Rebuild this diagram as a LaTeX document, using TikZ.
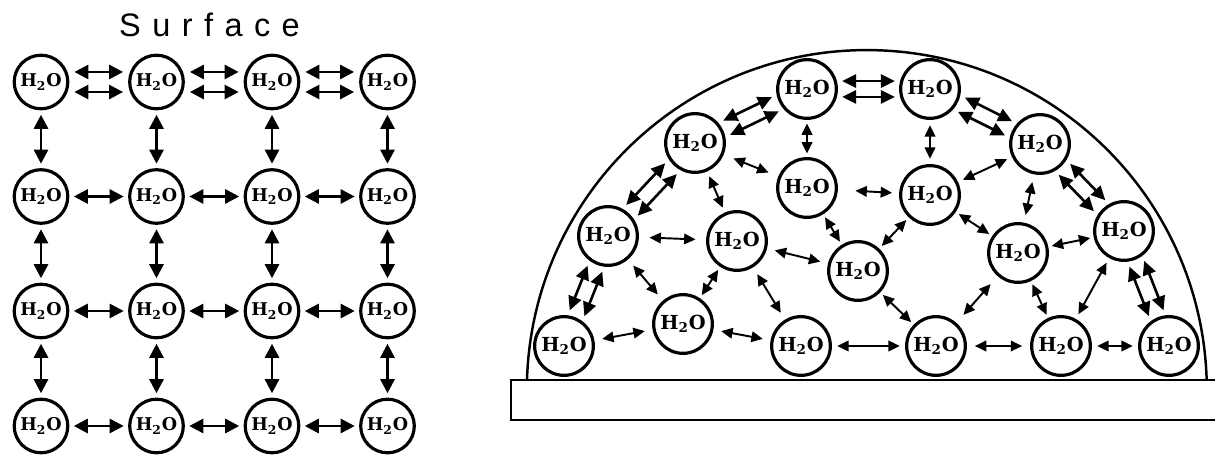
\documentclass[tikz,border=0pt]{standalone}
\usepackage{fontspec}
\usetikzlibrary{arrows.meta,calc}
\newfontfamily\molfont{DejaVu Serif}
\newfontfamily\headfont{Liberation Sans}
\newcommand{\water}{H\textsubscript{2}O}
\newcommand{\bondpair}[4]{%
    \draw[#1] ($(#3)!#2!90:(#4)$) -- ($(#4)!#2!-90:(#3)$);
    \draw[#1] ($(#3)!#2!-90:(#4)$) -- ($(#4)!#2!90:(#3)$);}
\begin{document}
\begin{tikzpicture}[
    mol/.style={circle, draw, line width=1.8pt, inner sep=0pt, minimum size=30.5pt,
        font=\molfont\bfseries\fontsize{10}{11}\selectfont},
    bigmol/.style={mol, minimum size=33.4pt, font=\molfont\bfseries\fontsize{11}{12}\selectfont},
    link/.style={{Triangle[length=8pt,width=8pt]}-{Triangle[length=8pt,width=8pt]},
        line width=1.5pt, shorten <=2.5pt, shorten >=2.5pt},
    gridpair/.style={link, shorten <=19pt, shorten >=19pt},
    rimpair/.style={{Triangle[length=8pt,width=7.5pt]}-{Triangle[length=8pt,width=7.5pt]},
        line width=1.5pt, shorten <=20pt, shorten >=20pt},
    bond/.style={{Triangle[length=6.5pt,width=6pt]}-{Triangle[length=6.5pt,width=6pt]},
        line width=1.1pt, shorten <=#1, shorten >=#1},
    bond/.default=3pt]
    \useasboundingbox (0,0) rectangle (24.3,-9.1);

    \node[font=\headfont\fontsize{18.5}{20}\selectfont] (surface) at (4.19,-0.5)
        {S\kern6.5pt u\kern6.5pt r\kern6.5pt f\kern6.5pt a\kern6.5pt c\kern6.5pt e};

    \node[mol] (w11) at (0.82,-1.64) {\water};
    \node[mol] (w12) at (3.13,-1.64) {\water};
    \node[mol] (w13) at (5.44,-1.64) {\water};
    \node[mol] (w14) at (7.75,-1.64) {\water};
    \node[mol] (w21) at (0.82,-3.93) {\water};
    \node[mol] (w22) at (3.13,-3.93) {\water};
    \node[mol] (w23) at (5.44,-3.93) {\water};
    \node[mol] (w24) at (7.75,-3.93) {\water};
    \node[mol] (w31) at (0.82,-6.22) {\water};
    \node[mol] (w32) at (3.13,-6.22) {\water};
    \node[mol] (w33) at (5.44,-6.22) {\water};
    \node[mol] (w34) at (7.75,-6.22) {\water};
    \node[mol] (w41) at (0.82,-8.52) {\water};
    \node[mol] (w42) at (3.13,-8.52) {\water};
    \node[mol] (w43) at (5.44,-8.52) {\water};
    \node[mol] (w44) at (7.75,-8.52) {\water};

    \bondpair{gridpair}{5.7pt}{w11}{w12}
    \bondpair{gridpair}{5.7pt}{w12}{w13}
    \bondpair{gridpair}{5.7pt}{w13}{w14}
    \draw[link] (w21) -- (w22);
    \draw[link] (w22) -- (w23);
    \draw[link] (w23) -- (w24);
    \draw[link] (w31) -- (w32);
    \draw[link] (w32) -- (w33);
    \draw[link] (w33) -- (w34);
    \draw[link] (w41) -- (w42);
    \draw[link] (w42) -- (w43);
    \draw[link] (w43) -- (w44);
    \draw[link] (w11) -- (w21);
    \draw[link] (w12) -- (w22);
    \draw[link] (w13) -- (w23);
    \draw[link] (w14) -- (w24);
    \draw[link] (w21) -- (w31);
    \draw[link] (w22) -- (w32);
    \draw[link] (w23) -- (w33);
    \draw[link] (w24) -- (w34);
    \draw[link] (w31) -- (w41);
    \draw[link] (w32) -- (w42);
    \draw[link] (w33) -- (w43);
    \draw[link] (w34) -- (w44);

    \draw[line width=1.4pt] (24.3,-7.6) -- (10.22,-7.6) -- (10.22,-8.4) -- (24.3,-8.4);
    \draw[line width=1.4pt] (10.54,-7.6) arc[start angle=178.3, end angle=1.7, radius=6.8];

    \node[bigmol] (dA) at (16.14,-1.78) {\water};
    \node[bigmol] (dB) at (18.6,-1.78) {\water};
    \node[bigmol] (dC) at (13.9,-2.86) {\water};
    \node[bigmol] (dD) at (20.8,-2.88) {\water};
    \node[bigmol] (dE) at (16.14,-3.76) {\water};
    \node[bigmol] (dF) at (18.6,-3.9) {\water};
    \node[bigmol] (dG) at (12.16,-4.72) {\water};
    \node[bigmol] (dH) at (14.74,-4.82) {\water};
    \node[bigmol] (dI) at (22.48,-4.62) {\water};
    \node[bigmol] (dJ) at (17.16,-5.42) {\water};
    \node[bigmol] (dK) at (20.36,-5.06) {\water};
    \node[bigmol] (dL) at (13.66,-6.48) {\water};
    \node[bigmol] (dM) at (11.28,-6.92) {\water};
    \node[bigmol] (dN) at (16.02,-6.92) {\water};
    \node[bigmol] (dO) at (18.72,-6.92) {\water};
    \node[bigmol] (dP) at (21.22,-6.92) {\water};
    \node[bigmol] (dQ) at (23.38,-6.92) {\water};

    \bondpair{rimpair}{4.5pt}{dA}{dB}
    \bondpair{rimpair}{4.5pt}{dA}{dC}
    \bondpair{rimpair}{4.5pt}{dC}{dG}
    \bondpair{rimpair}{4.5pt}{dG}{dM}
    \bondpair{rimpair}{4.5pt}{dB}{dD}
    \bondpair{rimpair}{4.5pt}{dD}{dI}
    \bondpair{rimpair}{4.5pt}{dI}{dQ}

    \draw[bond=2pt] (dA) -- (dE);
    \draw[bond] (dB) -- (dF);
    \draw[bond, shorten <=10pt, shorten >=4pt] (dE) -- (dF);
    \draw[bond=6pt] (dC) -- (dE);
    \draw[bond] (dC) -- (dH);
    \draw[bond] (dF) -- (dD);
    \draw[bond=4.5pt] (dD) -- (dK);
    \draw[bond=2pt] (dF) -- (dJ);
    \draw[bond=2pt] (dE) -- (dJ);
    \draw[bond=2pt] (dF) -- (dK);
    \draw[bond=2pt] (dK) -- (dI);
    \draw[bond=6pt] (dG) -- (dH);
    \draw[bond=4.5pt] (dH) -- (dJ);
    \draw[bond=4.5pt] (dG) -- (dL);
    \draw[bond=2pt] (dH) -- (dL);
    \draw[bond=4.5pt] (dH) -- (dN);
    \draw[bond=4.5pt] (dM) -- (dL);
    \draw[bond=4.5pt] (dL) -- (dN);
    \draw[bond] (dN) -- (dO);
    \draw[bond=4.5pt] (dO) -- (dP);
    \draw[bond] (dP) -- (dQ);
    \draw[bond=2pt] (dJ) -- (dO);
    \draw[bond=6pt] (dK) -- (dO);
    \draw[bond=2pt] (dK) -- (dP);
    \draw[bond] (dI) -- (dP);
\end{tikzpicture}
\end{document}
